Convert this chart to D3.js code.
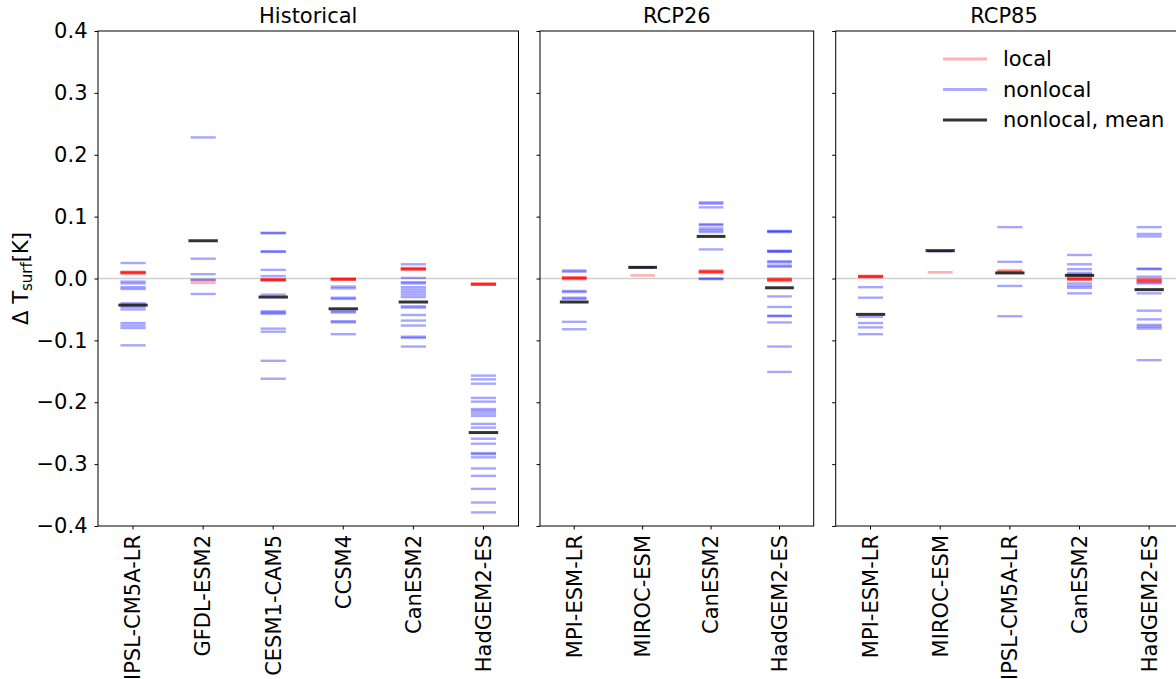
<!DOCTYPE html>
<html>
<head>
<meta charset="utf-8">
<script src="https://cdn.jsdelivr.net/npm/d3@7"></script>
<style>
  body { margin: 0; background: #fff; }
  svg { font-family: "DejaVu Sans", sans-serif; }
</style>
</head>
<body>
<script>
// model names for each panel
const histModels = ["IPSL-CM5A-LR", "GFDL-ESM2", "CESM1-CAM5", "CCSM4", "CanESM2", "HadGEM2-ES"];
const rcp26Models = ["MPI-ESM-LR", "MIROC-ESM", "CanESM2", "HadGEM2-ES"];
const rcp85Models = ["MPI-ESM-LR", "MIROC-ESM", "IPSL-CM5A-LR", "CanESM2", "HadGEM2-ES"];

// nonlocal effects, one list per model
const histNonlocal = [
  [0.025, -0.005, -0.008, -0.014, -0.017, -0.040, -0.046, -0.050, -0.072, -0.076, -0.080, -0.108],
  [0.228, 0.032, 0.007, -0.002, -0.025],
  [0.074, 0.073, 0.044, 0.043, 0.014, 0.004, -0.026, -0.053, -0.055, -0.057, -0.081, -0.086, -0.133, -0.162],
  [-0.013, -0.016, -0.031, -0.033, -0.053, -0.055, -0.069, -0.071, -0.090],
  [0.023, 0.001, -0.006, -0.008, -0.014, -0.018, -0.022, -0.026, -0.030, -0.045, -0.047, -0.059, -0.068, -0.076, -0.094, -0.096, -0.110],
  [-0.157, -0.163, -0.170, -0.193, -0.199, -0.211, -0.214, -0.218, -0.222, -0.235, -0.241, -0.259, -0.267, -0.282, -0.284, -0.289, -0.307, -0.319, -0.340, -0.362, -0.378]
];
const rcp26Nonlocal = [
  [0.013, 0.011, -0.020, -0.022, -0.031, -0.033, -0.070, -0.082],
  [0.018],
  [0.123, 0.121, 0.115, 0.088, 0.086, 0.081, 0.078, 0.075, 0.047, 0.000, -0.001],
  [0.077, 0.076, 0.075, 0.045, 0.044, 0.043, 0.028, 0.026, 0.021, 0.019, -0.029, -0.046, -0.060, -0.061, -0.071, -0.110, -0.151]
];
const rcp85Nonlocal = [
  [-0.014, -0.031, -0.062, -0.072, -0.079, -0.090],
  [0.044],
  [0.083, 0.027, -0.012, -0.061],
  [0.038, 0.023, 0.015, 0.009, 0.006, -0.008, -0.012, -0.015, -0.024],
  [0.083, 0.072, 0.068, 0.016, 0.015, 0.003, -0.008, -0.024, -0.052, -0.066, -0.075, -0.078, -0.081, -0.132]
];

// local effects (several runs stacked on nearly the same value)
const histLocal = [
  [0.011, 0.010, 0.010, 0.009, 0.008, 0.009],
  [-0.003, -0.007],
  [-0.001, -0.002, -0.002, -0.003, -0.003, -0.002],
  [0.000, -0.001, -0.001, -0.002, -0.002, -0.001],
  [0.017, 0.016, 0.016, 0.015, 0.014, 0.015],
  [-0.008, -0.009, -0.009, -0.010, -0.010, -0.009]
];
const rcp26Local = [
  [0.002, 0.001, 0.001, 0.000, -0.001, 0.001],
  [0.005],
  [0.013, 0.012, 0.011, 0.010, 0.009, 0.011],
  [0.000, -0.001, -0.002, -0.003, -0.004, -0.002]
];
const rcp85Local = [
  [0.004, 0.004, 0.003, 0.003, 0.002, 0.003],
  [0.010],
  [0.013, 0.012],
  [0.001, 0.000, -0.001, -0.001, -0.002, -0.001],
  [-0.001, -0.002, -0.003, -0.005, -0.006, -0.004]
];

// nonlocal mean per model
const histMean = [-0.043, 0.061, -0.030, -0.049, -0.038, -0.249];
const rcp26Mean = [-0.038, 0.018, 0.068, -0.015];
const rcp85Mean = [-0.058, 0.045, 0.009, 0.005, -0.018];

const yTicks = [-0.4, -0.3, -0.2, -0.1, 0.0, 0.1, 0.2, 0.3, 0.4];

const width = 1176, height = 679;
const plotTop = 31, plotBottom = 526;
const fontSize = 21;

const panels = [
  {title: "Historical", models: histModels, nonlocal: histNonlocal, local: histLocal, mean: histMean, x0: 98, x1: 518.5, labels: true},
  {title: "RCP26", models: rcp26Models, nonlocal: rcp26Nonlocal, local: rcp26Local, mean: rcp26Mean, x0: 540, x1: 813.7, labels: false},
  {title: "RCP85", models: rcp85Models, nonlocal: rcp85Nonlocal, local: rcp85Local, mean: rcp85Mean, x0: 835.7, x1: 1184, labels: false}
];

const svg = d3.select("body").append("svg")
  .attr("width", width)
  .attr("height", height);

const y = d3.scaleLinear().domain([-0.4, 0.4]).range([plotBottom, plotTop]);
const fmt = d3.format(".1f");

panels.forEach(p => {
  const x = d3.scaleBand().domain(p.models).range([p.x0, p.x1]);
  const g = svg.append("g");
  const bw = x.bandwidth();

  // zero line
  g.append("line")
    .attr("x1", p.x0).attr("x2", p.x1)
    .attr("y1", y(0)).attr("y2", y(0))
    .attr("stroke", "#cfcfcf").attr("stroke-width", 1.5);

  // local values
  p.models.forEach((m, i) => {
    const cx = x(m) + bw / 2;
    g.selectAll(null).data(p.local[i]).enter().append("line")
      .attr("x1", cx - bw * 0.18).attr("x2", cx + bw * 0.18)
      .attr("y1", d => y(d)).attr("y2", d => y(d))
      .attr("stroke", "red").attr("stroke-opacity", 0.3).attr("stroke-width", 2.6);
  });

  // nonlocal values
  p.models.forEach((m, i) => {
    const cx = x(m) + bw / 2;
    g.selectAll(null).data(p.nonlocal[i]).enter().append("line")
      .attr("x1", cx - bw * 0.18).attr("x2", cx + bw * 0.18)
      .attr("y1", d => y(d)).attr("y2", d => y(d))
      .attr("stroke", "blue").attr("stroke-opacity", 0.35).attr("stroke-width", 2.4);
  });

  // nonlocal mean
  g.selectAll(null).data(p.mean).enter().append("line")
    .attr("x1", (d, i) => x(p.models[i]) + bw / 2 - bw * 0.21)
    .attr("x2", (d, i) => x(p.models[i]) + bw / 2 + bw * 0.21)
    .attr("y1", d => y(d)).attr("y2", d => y(d))
    .attr("stroke", "black").attr("stroke-opacity", 0.8).attr("stroke-width", 3);

  // axes
  const ya = g.append("g")
    .attr("transform", `translate(${p.x0},0)`)
    .call(d3.axisLeft(y).tickValues(yTicks).tickSize(3.5).tickPadding(7)
      .tickFormat(p.labels ? fmt : ""));
  ya.select(".domain").remove();
  ya.selectAll("text").attr("font-size", fontSize).attr("fill", "#000").attr("font-family", "DejaVu Sans");

  const xa = g.append("g")
    .attr("transform", `translate(0,${plotBottom})`)
    .call(d3.axisBottom(x).tickSize(3.5).tickPadding(7));
  xa.select(".domain").remove();
  xa.selectAll("text")
    .attr("font-size", fontSize).attr("fill", "#000").attr("font-family", "DejaVu Sans")
    .attr("transform", "rotate(-90)")
    .attr("text-anchor", "end")
    .attr("x", -9).attr("y", 0).attr("dy", "0.35em");

  // frame
  g.append("rect")
    .attr("x", p.x0).attr("y", plotTop)
    .attr("width", p.x1 - p.x0).attr("height", plotBottom - plotTop)
    .attr("fill", "none").attr("stroke", "#000").attr("stroke-width", 1);

  // title
  g.append("text")
    .attr("x", p.x1 > width ? 1004 : (p.x0 + p.x1) / 2)
    .attr("y", 23)
    .attr("text-anchor", "middle")
    .attr("font-size", fontSize)
    .text(p.title);
});

// y axis label
const yl = svg.append("text")
  .attr("transform", `translate(28,${y(0)}) rotate(-90)`)
  .attr("text-anchor", "middle")
  .attr("font-size", fontSize);
yl.append("tspan").text("Δ T");
yl.append("tspan").attr("font-size", 15).attr("dy", 4).text("surf");
yl.append("tspan").attr("dy", -4).text("[K]");

// legend in the last panel
const legendItems = ["local", "nonlocal", "nonlocal, mean"];
const legendColors = ["red", "blue", "black"];
const legendOpacity = [0.3, 0.33, 0.8];
const lg = svg.append("g");
legendItems.forEach((name, i) => {
  const ly = 59 + i * 30.5;
  lg.append("line")
    .attr("x1", 943).attr("x2", 987)
    .attr("y1", ly).attr("y2", ly)
    .attr("stroke", legendColors[i]).attr("stroke-opacity", legendOpacity[i]).attr("stroke-width", 3);
  lg.append("text")
    .attr("x", 1003).attr("y", ly).attr("dy", "0.35em")
    .attr("font-size", fontSize)
    .text(name);
});
</script>
</body>
</html>
